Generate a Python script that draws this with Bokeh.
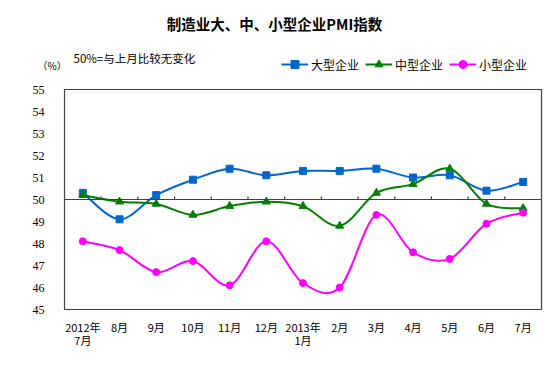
import numpy as np
from bokeh.plotting import figure
from bokeh.models import Label, Span, Legend, LegendItem, FixedTicker, Range1d
from bokeh.embed import file_html
from bokeh.resources import INLINE

months = ["2012年\n7月", "8月", "9月", "10月", "11月", "12月", "2013年\n1月",
          "2月", "3月", "4月", "5月", "6月", "7月"]
large = [50.3, 49.1, 50.2, 50.9, 51.4, 51.1, 51.3, 51.3, 51.4, 51.0, 51.1, 50.4, 50.8]
medium = [50.2, 49.9, 49.8, 49.3, 49.7, 49.9, 49.7, 48.8, 50.3, 50.7, 51.4, 49.8, 49.6]
small = [48.1, 47.7, 46.7, 47.2, 46.1, 48.1, 46.2, 46.0, 49.3, 47.6, 47.3, 48.9, 49.4]
y_ticks = [45, 46, 47, 48, 49, 50, 51, 52, 53, 54, 55]
series_names = ["大型企业", "中型企业", "小型企业"]
title_text = "制造业大、中、小型企业PMI指数"
note_text = "50%=与上月比较无变化"
unit_text = "（%）"

CJK = "Noto Sans CJK SC"
n = len(months)
xs = np.arange(n) + 0.5
colors = ["#0066CC", "#007F00", "#FF00FF"]
markers = ["square", "triangle", "circle"]
sizes = [7, 8, 7]

W = 553
HEAD = 82

# ---------------- header (title, note, legend) ----------------
h = figure(width=W, height=HEAD, output_backend="svg", toolbar_location=None,
           x_range=Range1d(0, W), y_range=Range1d(HEAD, 0),
           min_border=0, min_border_left=0, min_border_right=0,
           min_border_top=0, min_border_bottom=0)
h.axis.visible = False
h.xgrid.visible = False
h.ygrid.visible = False
h.outline_line_color = None
h.background_fill_color = "white"
h.border_fill_color = "white"

h.add_layout(Label(x=274, y=23, text=title_text, text_align="center", text_baseline="middle",
                   text_font=CJK, text_font_size="14.5px", text_font_style="bold",
                   text_color="black"))
h.add_layout(Label(x=73, y=57, text=note_text, text_align="left", text_baseline="middle",
                   text_font=CJK, text_font_size="11.5px", text_color="black"))
h.add_layout(Label(x=37, y=65, text=unit_text, text_align="left", text_baseline="middle",
                   text_font=CJK, text_font_size="10px", text_color="black"))

items = []
for name, c, m, s in zip(series_names, colors, markers, sizes):
    rl = h.line(x=[-1000, -999], y=[-1000, -1000], line_color=c, line_width=2)
    rs = h.scatter(x=[-1000], y=[-1000], marker=m, size=s - 1, fill_color=c, line_color=c)
    items.append(LegendItem(label=name, renderers=[rl, rs]))

legend = Legend(items=items, orientation="horizontal", location=(281, HEAD - 64 - 10))
legend.background_fill_alpha = 0
legend.border_line_color = None
legend.padding = 0
legend.margin = 0
legend.spacing = 6
legend.glyph_width = 27
legend.glyph_height = 20
legend.label_standoff = 3
legend.label_text_font = CJK
legend.label_text_font_size = "12px"
legend.label_text_color = "black"
h.add_layout(legend)

# ---------------- main chart ----------------
p = figure(width=W, height=365 - HEAD, output_backend="svg", toolbar_location=None,
           x_range=Range1d(0, n), y_range=Range1d(45, 55),
           min_border_left=64, min_border_right=12, min_border_top=89 - HEAD,
           min_border_bottom=56)
p.background_fill_color = "white"
p.border_fill_color = "white"
p.outline_line_color = "#404040"
p.outline_line_width = 1.2
p.xgrid.visible = False
p.ygrid.visible = False

p.yaxis.ticker = FixedTicker(ticks=y_ticks)
p.yaxis.axis_line_color = None
p.yaxis.major_tick_line_color = None
p.yaxis.minor_tick_line_color = None
p.yaxis.major_label_standoff = 14
p.yaxis.major_label_text_font = "Liberation Serif"
p.yaxis.major_label_text_font_size = "12px"
p.yaxis.major_label_text_color = "black"

p.xaxis.ticker = FixedTicker(ticks=list(xs))
p.xaxis.major_label_overrides = {float(x): m for x, m in zip(xs, months)}
p.xaxis.axis_line_color = None
p.xaxis.major_tick_line_color = None
p.xaxis.minor_tick_line_color = None
p.xaxis.major_label_standoff = 3
p.xaxis.major_label_text_font = CJK
p.xaxis.major_label_text_font_size = "11px"
p.xaxis.major_label_text_color = "black"
p.xaxis.major_label_text_line_height = 0.87

# 50 baseline with category-boundary ticks
p.add_layout(Span(location=50, dimension="width", line_color="#404040", line_width=1.2))
bx = np.arange(1, n)
p.segment(x0=bx, y0=[50] * len(bx), x1=bx, y1=[50.14] * len(bx),
          line_color="#404040", line_width=1.2)


def smooth(ys):
    pts = np.column_stack([xs, np.array(ys, dtype=float)])
    out = {k: [] for k in ["x0", "y0", "x1", "y1", "cx0", "cy0", "cx1", "cy1"]}
    for i in range(n - 1):
        pa = pts[i - 1] if i > 0 else pts[i]
        pb = pts[i]
        pc = pts[i + 1]
        pd = pts[i + 2] if i + 2 < n else pts[i + 1]
        c0 = pb + (pc - pa) / 6.0
        c1 = pc - (pd - pb) / 6.0
        out["x0"].append(pb[0]); out["y0"].append(pb[1])
        out["x1"].append(pc[0]); out["y1"].append(pc[1])
        out["cx0"].append(c0[0]); out["cy0"].append(c0[1])
        out["cx1"].append(c1[0]); out["cy1"].append(c1[1])
    return out


for ys, c, m, s in zip([large, medium, small], colors, markers, sizes):
    p.bezier(**smooth(ys), line_color=c, line_width=2)
    p.scatter(xs, ys, marker=m, size=s, fill_color=c, line_color=c)

open("out.html", "w").write(file_html([h, p], INLINE))
